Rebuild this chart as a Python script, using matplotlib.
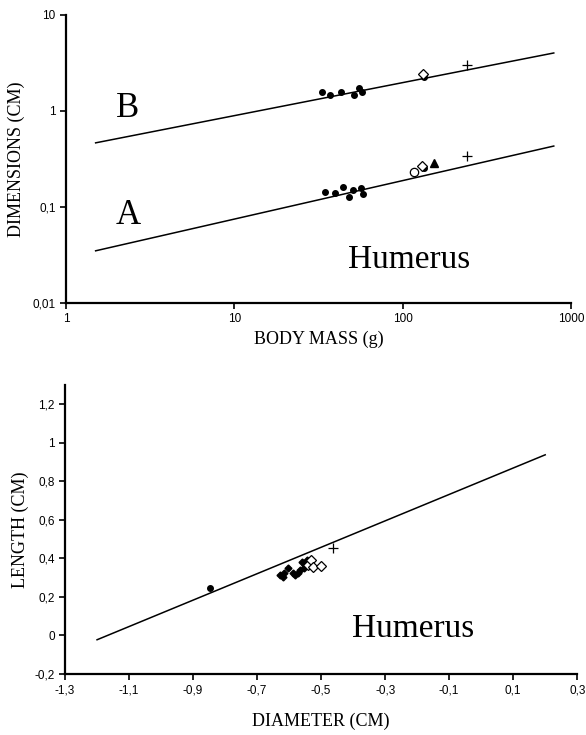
import numpy as np
import matplotlib
matplotlib.use("Agg")
import matplotlib.pyplot as plt
from matplotlib.ticker import FixedLocator, NullLocator

SERIF = "Liberation Serif"
SANS = "Liberation Sans"

# --- верхний график: размеры плечевой кости от массы тела (лог-лог)
# B (длина)
b_mass_dots = [33.4, 36.9, 43.0, 51.2, 54.8, 57.6, 133]
b_dim_dots = [1.57, 1.48, 1.57, 1.48, 1.75, 1.57, 2.28]
b_mass_diam = [132]
b_dim_diam = [2.41]
b_mass_plus = [242]
b_dim_plus = [3.03]
# A (диаметр)
a_mass_dots = [34.8, 39.9, 44.2, 47.8, 50.7, 56.6, 57.9, 133]
a_dim_dots = [0.143, 0.141, 0.163, 0.127, 0.150, 0.159, 0.138, 0.253]
a_mass_circ = [116]
a_dim_circ = [0.233]
a_mass_diam = [131]
a_dim_diam = [0.269]
a_mass_tri = [153]
a_dim_tri = [0.289]
a_mass_plus = [241]
a_dim_plus = [0.342]
# регрессии: y = k * x^p
fit_b = (0.405, 0.344)
fit_a = (0.0297, 0.401)
fit_mass_range = (1.5, 790)

# --- нижний график: длина от диаметра
diam_dot = [-0.846]
len_dot = [0.247]
diam_filled = [-0.628, -0.620, -0.615, -0.602, -0.587, -0.583, -0.571,
               -0.566, -0.555, -0.550, -0.560, -0.545]
len_filled = [0.314, 0.306, 0.323, 0.349, 0.326, 0.314, 0.323,
              0.340, 0.349, 0.366, 0.380, 0.392]
diam_open = [-0.540, -0.531, -0.526, -0.501]
len_open = [0.366, 0.392, 0.357, 0.361]
diam_plus = [-0.464]
len_plus = [0.456]
fit_lin = (0.686, 0.801)
fit_diam_range = (-1.2, 0.2)


def style_axes(ax):
    for s in ("top", "right"):
        ax.spines[s].set_visible(False)
    for s in ("left", "bottom"):
        ax.spines[s].set_linewidth(1.6)
    ax.tick_params(direction="out", length=4, width=1.2, labelsize=8.5)
    for lab in ax.get_xticklabels() + ax.get_yticklabels():
        lab.set_fontfamily(SANS)


fig = plt.figure(figsize=(5.86, 7.35), dpi=100)

# верхний
ax1 = fig.add_axes([0.1126, 0.5878, 0.8618, 0.3918])
ax1.set_xscale("log")
ax1.set_yscale("log")
ax1.set_xlim(1, 1000)
ax1.set_ylim(0.01, 10)

xm = np.array(fit_mass_range)
ax1.plot(xm, fit_b[0] * xm ** fit_b[1], color="black", lw=1.1)
ax1.plot(xm, fit_a[0] * xm ** fit_a[1], color="black", lw=1.1)

ax1.plot(b_mass_dots, b_dim_dots, "o", color="black", ms=4)
ax1.plot(b_mass_diam, b_dim_diam, "D", mfc="white", mec="black", ms=5, mew=0.9)
ax1.plot(b_mass_plus, b_dim_plus, "+", color="black", ms=7, mew=0.9)
ax1.plot(a_mass_dots, a_dim_dots, "o", color="black", ms=4)
ax1.plot(a_mass_circ, a_dim_circ, "o", mfc="white", mec="black", ms=6, mew=0.9)
ax1.plot(a_mass_diam, a_dim_diam, "D", mfc="white", mec="black", ms=5, mew=0.9)
ax1.plot(a_mass_tri, a_dim_tri, "^", color="black", ms=6)
ax1.plot(a_mass_plus, a_dim_plus, "+", color="black", ms=7, mew=0.9)

ax1.xaxis.set_major_locator(FixedLocator([1, 10, 100, 1000]))
ax1.xaxis.set_minor_locator(NullLocator())
ax1.yaxis.set_major_locator(FixedLocator([0.01, 0.1, 1, 10]))
ax1.yaxis.set_minor_locator(NullLocator())
ax1.set_xticklabels(["1", "10", "100", "1000"])
ax1.set_yticklabels(["0,01", "0,1", "1", "10"])
style_axes(ax1)

ax1.set_xlabel("BODY MASS (g)", fontfamily=SERIF, fontsize=13, labelpad=4)
ax1.set_ylabel("DIMENSIONS (CM)", fontfamily=SERIF, fontsize=13, labelpad=5)
ax1.text(2.33, 1.05, "B", fontfamily=SERIF, fontsize=25, ha="center", va="center")
ax1.text(2.33, 0.082, "A", fontfamily=SERIF, fontsize=25, ha="center", va="center")
ax1.text(0.68, 0.15, "Humerus", fontfamily=SERIF, fontsize=24, ha="center",
         va="center", transform=ax1.transAxes)

# нижний
ax2 = fig.add_axes([0.111, 0.083, 0.874, 0.393])
ax2.set_xlim(-1.3, 0.3)
ax2.set_ylim(-0.2, 1.3)

xd = np.array(fit_diam_range)
ax2.plot(xd, fit_lin[0] * xd + fit_lin[1], color="black", lw=1.1)
ax2.plot(diam_dot, len_dot, "o", color="black", ms=4)
ax2.plot(diam_filled, len_filled, "D", color="black", ms=3.5)
ax2.plot(diam_open, len_open, "D", mfc="white", mec="black", ms=5, mew=0.9)
ax2.plot(diam_plus, len_plus, "+", color="black", ms=7, mew=0.9)

xt = [-1.3, -1.1, -0.9, -0.7, -0.5, -0.3, -0.1, 0.1, 0.3]
yt = [-0.2, 0, 0.2, 0.4, 0.6, 0.8, 1.0, 1.2]
ax2.set_xticks(xt)
ax2.set_xticklabels(["-1,3", "-1,1", "-0,9", "-0,7", "-0,5", "-0,3", "-0,1", "0,1", "0,3"])
ax2.set_yticks(yt)
ax2.set_yticklabels(["-0,2", "0", "0,2", "0,4", "0,6", "0,8", "1", "1,2"])
style_axes(ax2)

ax2.set_xlabel("DIAMETER (CM)", fontfamily=SERIF, fontsize=13, labelpad=12)
ax2.set_ylabel("LENGTH (CM)", fontfamily=SERIF, fontsize=13, labelpad=4)
ax2.text(0.68, 0.155, "Humerus", fontfamily=SERIF, fontsize=24, ha="center",
         va="center", transform=ax2.transAxes)

fig.savefig("out.png", dpi=100)
